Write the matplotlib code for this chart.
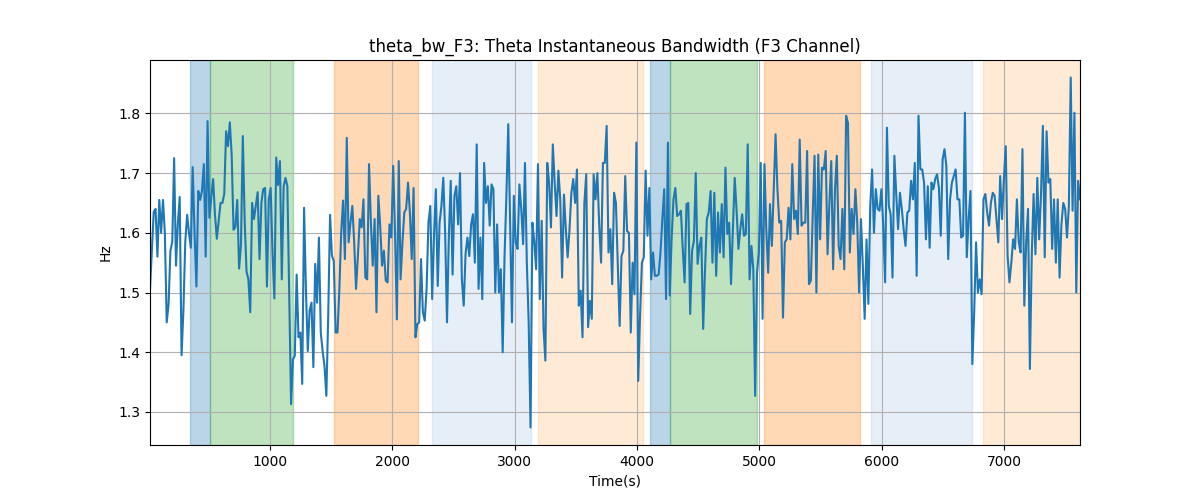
import numpy as np
import matplotlib
matplotlib.use("Agg")
import matplotlib.pyplot as plt

t_start, t_end = 19, 7621

seg1 = [1.505, 1.57, 1.635, 1.64, 1.56, 1.655, 1.6, 1.655, 1.6, 1.45, 1.48, 1.57, 1.585, 1.725, 1.545, 1.615, 1.66, 1.395, 1.47, 1.585,
        1.63, 1.6, 1.575, 1.71, 1.6, 1.51, 1.67, 1.655, 1.67, 1.715, 1.56, 1.787, 1.625, 1.66, 1.69, 1.63, 1.59, 1.62, 1.65, 1.65,
        1.665, 1.77, 1.745, 1.785, 1.73, 1.605, 1.61, 1.655, 1.54, 1.58]
seg2 = [1.762, 1.62, 1.535, 1.522, 1.467, 1.65, 1.623, 1.645, 1.668, 1.556, 1.65, 1.673, 1.675, 1.51, 1.656, 1.675, 1.567, 1.49, 1.726, 1.68,
        1.72, 1.522, 1.678, 1.692, 1.678, 1.495, 1.313, 1.388, 1.394, 1.53, 1.425, 1.433, 1.347, 1.642, 1.505, 1.402, 1.47, 1.483, 1.375, 1.548,
        1.483, 1.592, 1.433, 1.402, 1.377, 1.327, 1.46, 1.63, 1.562]
seg3 = [1.553, 1.433, 1.433, 1.505, 1.6, 1.654, 1.556, 1.759, 1.584, 1.617, 1.645, 1.584, 1.506, 1.562, 1.623, 1.609, 1.656, 1.525, 1.522, 1.715,
        1.617, 1.545, 1.623, 1.467, 1.662, 1.612, 1.545, 1.57, 1.52, 1.517, 1.614, 1.592, 1.712, 1.6, 1.455, 1.72, 1.522, 1.584, 1.634, 1.64,
        1.684, 1.634, 1.556, 1.675, 1.425, 1.447, 1.45, 1.556, 1.467]
seg4 = [1.453, 1.506, 1.617, 1.645, 1.489, 1.595, 1.673, 1.511, 1.617, 1.645, 1.692, 1.6, 1.45, 1.595, 1.687, 1.53, 1.662, 1.678, 1.614, 1.7,
        1.522, 1.478, 1.565, 1.592, 1.561, 1.614, 1.631, 1.55, 1.748, 1.506, 1.592, 1.489, 1.717, 1.65, 1.678, 1.612, 1.681, 1.673, 1.5, 1.614,
        1.5, 1.539, 1.4, 1.561, 1.662, 1.782, 1.612, 1.45, 1.662]
seg5 = [1.584, 1.573, 1.681, 1.64, 1.581, 1.717, 1.55, 1.45, 1.274, 1.617, 1.586, 1.539, 1.715, 1.489, 1.62, 1.439, 1.386, 1.717, 1.684, 1.609,
        1.748, 1.684, 1.628, 1.704, 1.656, 1.525, 1.664, 1.606, 1.559, 1.606, 1.667, 1.69, 1.65, 1.706, 1.478, 1.503, 1.425, 1.65, 1.698, 1.442,
        1.486, 1.456, 1.698, 1.656, 1.7, 1.612, 1.55, 1.717, 1.717, 1.779]
seg6 = [1.567, 1.606, 1.514, 1.667, 1.65, 1.545, 1.444, 1.561, 1.57, 1.695, 1.603, 1.6, 1.433, 1.55, 1.497, 1.751, 1.352, 1.461, 1.55, 1.559,
        1.704, 1.595, 1.675, 1.522, 1.567, 1.528, 1.528, 1.53, 1.567, 1.623, 1.673, 1.489, 1.751, 1.495, 1.59, 1.656, 1.675, 1.628, 1.631, 1.637,
        1.573, 1.517, 1.648, 1.65, 1.464, 1.57, 1.586, 1.7, 1.548, 1.578]
seg7 = [1.592, 1.439, 1.539, 1.623, 1.634, 1.67, 1.55, 1.667, 1.528, 1.634, 1.567, 1.648, 1.559, 1.709, 1.598, 1.617, 1.514, 1.606, 1.692, 1.637,
        1.573, 1.606, 1.631, 1.595, 1.598, 1.748, 1.522, 1.578, 1.539, 1.327, 1.533, 1.567, 1.717, 1.456, 1.715, 1.606, 1.533, 1.648, 1.578, 1.673,
        1.765, 1.673, 1.617, 1.62, 1.458, 1.584, 1.589, 1.642, 1.589, 1.715]
seg8 = [1.623, 1.637, 1.598, 1.756, 1.612, 1.617, 1.617, 1.737, 1.514, 1.52, 1.628, 1.729, 1.5, 1.731, 1.589, 1.709, 1.706, 1.737, 1.564, 1.65,
        1.72, 1.539, 1.673, 1.729, 1.578, 1.556, 1.64, 1.539, 1.796, 1.784, 1.567, 1.64, 1.598, 1.673, 1.617, 1.5, 1.623, 1.545, 1.456, 1.589,
        1.481, 1.645, 1.706, 1.6, 1.673, 1.64, 1.637, 1.673, 1.612, 1.517]
seg9 = [1.776, 1.645, 1.631, 1.525, 1.729, 1.665, 1.606, 1.667, 1.64, 1.606, 1.578, 1.634, 1.637, 1.687, 1.656, 1.717, 1.528, 1.796, 1.706, 1.706,
        1.684, 1.589, 1.678, 1.575, 1.684, 1.673, 1.69, 1.698, 1.675, 1.595, 1.723, 1.74, 1.712, 1.556, 1.656, 1.684, 1.695, 1.706, 1.656, 1.656,
        1.592, 1.595, 1.801, 1.559, 1.623, 1.67, 1.38, 1.467, 1.584, 1.5]
seg10 = [1.522, 1.497, 1.656, 1.665, 1.634, 1.612, 1.65, 1.667, 1.662, 1.623, 1.584, 1.695, 1.623, 1.69, 1.745, 1.561, 1.517, 1.55, 1.589, 1.573,
         1.656, 1.584, 1.567, 1.74, 1.478, 1.584, 1.64, 1.372, 1.561, 1.665, 1.564, 1.692, 1.589, 1.665, 1.779, 1.559, 1.77, 1.684, 1.69, 1.573,
         1.656, 1.55, 1.656, 1.525, 1.614, 1.65, 1.64, 1.592, 1.645, 1.86, 1.637, 1.801, 1.5, 1.687, 1.656]

values = np.array(seg1 + seg2 + seg3 + seg4 + seg5 + seg6 + seg7 + seg8 + seg9 + seg10)
times = np.linspace(t_start, t_end, len(values))

span_starts = [346, 509, 1523, 2324, 3191, 4106, 4270, 5038, 5913, 6829]
span_ends = [509, 1188, 2210, 3134, 4049, 4270, 4981, 5823, 6739, 7621]
span_colors = ["tab:blue", "tab:green", "tab:orange", "#aec7e8", "#ffbb78",
               "tab:blue", "tab:green", "tab:orange", "#aec7e8", "#ffbb78"]
span_alphas = [0.3, 0.3, 0.3, 0.3, 0.3, 0.3, 0.3, 0.3, 0.3, 0.3]

fig, ax = plt.subplots(figsize=(12, 5), dpi=100)
for s, e, c, a in zip(span_starts, span_ends, span_colors, span_alphas):
    ax.axvspan(s, e, color=c, alpha=a)
ax.plot(times, values, color="tab:blue", linewidth=1.5)
ax.set_xlim(times[0], times[-1])
ax.grid(True)
ax.set_title("theta_bw_F3: Theta Instantaneous Bandwidth (F3 Channel)")
ax.set_xlabel("Time(s)")
ax.set_ylabel("Hz")
fig.savefig("out.png")
